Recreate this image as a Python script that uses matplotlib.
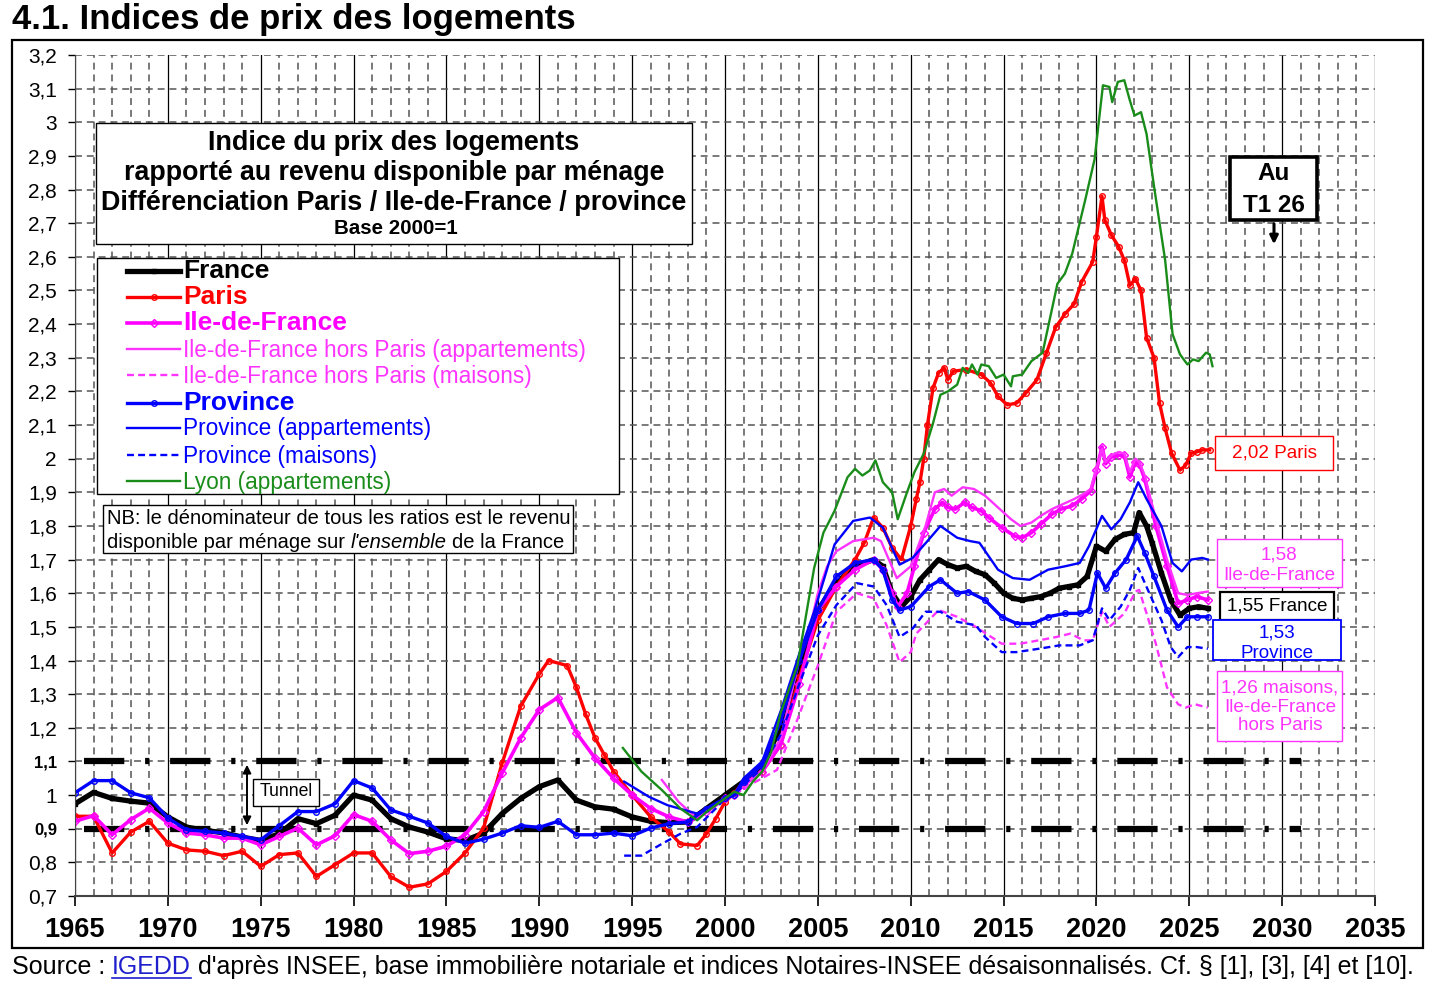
import matplotlib
matplotlib.use("Agg")
import matplotlib.pyplot as plt
from matplotlib.patches import Rectangle, FancyArrowPatch
from matplotlib.lines import Line2D
from matplotlib.ticker import MultipleLocator

W, H = 1433, 985
plt.rcParams['font.family'] = ['Liberation Sans', 'DejaVu Sans']
plt.rcParams['lines.scale_dashes'] = False

# ---- data (year, ratio) ----
france = [(1965, 0.974), (1966, 1.008), (1967, 0.99), (1968, 0.982), (1969, 0.976), (1970, 0.935),
          (1971, 0.905), (1972, 0.895), (1973, 0.888), (1974, 0.875), (1975, 0.865), (1976, 0.885),
          (1977, 0.93), (1978, 0.915), (1979, 0.94), (1980, 1.0), (1981, 0.985), (1982, 0.93),
          (1983, 0.905), (1984, 0.89), (1985, 0.87), (1986, 0.865), (1987, 0.887), (1988, 0.945),
          (1989, 0.99), (1990, 1.025), (1991, 1.045), (1992, 0.985), (1993, 0.965), (1994, 0.958),
          (1995, 0.935), (1996, 0.922), (1997, 0.918), (1998, 0.92), (1999, 0.96), (2000, 1.0),
          (2001, 1.04), (2002, 1.09), (2003, 1.2), (2004, 1.38), (2005, 1.55), (2006, 1.63),
          (2007, 1.68), (2008, 1.70), (2008.5, 1.68), (2009, 1.6), (2009.5, 1.56), (2010, 1.59),
          (2010.5, 1.64), (2011, 1.67), (2011.5, 1.70), (2012, 1.685), (2012.5, 1.675), (2013, 1.68),
          (2013.5, 1.665), (2014, 1.655), (2014.5, 1.63), (2015, 1.60), (2015.5, 1.585), (2016, 1.58),
          (2016.5, 1.585), (2017, 1.59), (2017.5, 1.60), (2018, 1.615), (2018.5, 1.62), (2019, 1.625),
          (2019.5, 1.65), (2020, 1.74), (2020.5, 1.725), (2021, 1.76), (2021.5, 1.775), (2022, 1.78),
          (2022.3, 1.84), (2022.7, 1.80), (2023, 1.75), (2023.5, 1.66), (2024, 1.58), (2024.5, 1.535),
          (2025, 1.555), (2025.5, 1.56), (2026, 1.555)]

paris = [(1965, 0.937), (1966, 0.937), (1967, 0.828), (1968, 0.89), (1969, 0.922), (1970, 0.857),
         (1971, 0.837), (1972, 0.833), (1973, 0.82), (1974, 0.833), (1975, 0.788), (1976, 0.823),
         (1977, 0.828), (1978, 0.758), (1979, 0.793), (1980, 0.828), (1981, 0.828), (1982, 0.758),
         (1983, 0.726), (1984, 0.736), (1985, 0.773), (1986, 0.828), (1987, 0.902), (1988, 1.095),
         (1989, 1.264), (1990, 1.36), (1990.5, 1.40), (1991.5, 1.385), (1992, 1.32), (1992.5, 1.24),
         (1993, 1.17), (1993.5, 1.12), (1994, 1.07), (1995, 1.0), (1996, 0.935), (1997, 0.89),
         (1997.6, 0.855), (1998.5, 0.85), (1999, 0.885), (1999.5, 0.93), (2000, 0.98), (2000.5, 1.005),
         (2001, 1.04), (2002, 1.07), (2003, 1.15), (2004, 1.35), (2005, 1.52), (2006, 1.62),
         (2007, 1.70), (2007.5, 1.75), (2008, 1.825), (2008.5, 1.795), (2009, 1.735), (2009.5, 1.70),
         (2010, 1.80), (2010.3, 1.88), (2010.5, 1.93), (2010.7, 2.0), (2010.9, 2.1), (2011.2, 2.21),
         (2011.5, 2.255), (2011.8, 2.27), (2012, 2.235), (2012.3, 2.26), (2013, 2.265), (2013.8, 2.25),
         (2014.3, 2.225), (2014.7, 2.185), (2015.2, 2.16), (2015.7, 2.165), (2016.2, 2.195),
         (2016.8, 2.235), (2017.3, 2.313), (2017.8, 2.39), (2018.3, 2.43), (2018.8, 2.46),
         (2019.2, 2.525), (2019.8, 2.585), (2020.0, 2.66), (2020.3, 2.78), (2020.45, 2.71),
         (2020.8, 2.665), (2021.2, 2.63), (2021.5, 2.59), (2021.8, 2.515), (2022.1, 2.535),
         (2022.4, 2.50), (2022.7, 2.36), (2023.1, 2.30), (2023.4, 2.165), (2023.7, 2.09),
         (2024.05, 2.016), (2024.5, 1.966), (2024.8, 1.98), (2025.1, 2.016), (2025.4, 2.02),
         (2025.7, 2.026), (2026.1, 2.026)]

idf = [(1965, 0.922), (1966, 0.939), (1967, 0.882), (1968, 0.927), (1969, 0.961), (1970, 0.917),
       (1971, 0.887), (1972, 0.882), (1973, 0.872), (1974, 0.872), (1975, 0.852), (1976, 0.877),
       (1977, 0.902), (1978, 0.852), (1979, 0.879), (1980, 0.942), (1981, 0.922), (1982, 0.867),
       (1983, 0.826), (1984, 0.833), (1985, 0.848), (1986, 0.882), (1987, 0.951), (1988, 1.065),
       (1989, 1.17), (1990, 1.254), (1991, 1.29), (1992, 1.185), (1993, 1.11), (1994, 1.05),
       (1995, 1.0), (1996, 0.96), (1997, 0.935), (1998, 0.92), (1999, 0.95), (2000, 0.99),
       (2000.5, 1.0), (2001, 1.03), (2002, 1.07), (2003, 1.15), (2004, 1.33), (2005, 1.55),
       (2006, 1.62), (2007, 1.67), (2008, 1.70), (2008.5, 1.67), (2009, 1.60), (2009.3, 1.56),
       (2009.8, 1.60), (2010.2, 1.68), (2010.7, 1.78), (2011.3, 1.85), (2011.7, 1.87), (2012, 1.855),
       (2012.4, 1.85), (2012.9, 1.87), (2013.3, 1.855), (2013.8, 1.845), (2014.2, 1.825),
       (2014.9, 1.795), (2015.6, 1.77), (2016, 1.765), (2016.5, 1.78), (2017, 1.805), (2017.6, 1.835),
       (2018.1, 1.85), (2018.7, 1.86), (2019.2, 1.88), (2019.7, 1.905), (2020, 1.965), (2020.3, 2.035),
       (2020.5, 1.985), (2020.8, 2.005), (2021.2, 2.01), (2021.5, 2.01), (2021.8, 1.945),
       (2022.1, 1.99), (2022.3, 1.985), (2022.6, 1.94), (2023.2, 1.80), (2023.8, 1.68),
       (2024.4, 1.57), (2024.9, 1.58), (2025.4, 1.59), (2026, 1.58)]

idf_appart = [(1996.6, 1.045), (1997.5, 0.98), (1998.4, 0.935), (1999, 0.95), (2000, 0.99),
              (2000.5, 1.0), (2001, 1.03), (2002, 1.07), (2003, 1.17), (2004, 1.40), (2004.5, 1.48),
              (2005, 1.6), (2005.5, 1.68), (2006, 1.725), (2006.9, 1.755), (2008, 1.765),
              (2008.4, 1.755), (2009.25, 1.645), (2010, 1.68), (2010.8, 1.80), (2011.3, 1.90),
              (2011.8, 1.91), (2012.2, 1.89), (2012.8, 1.915), (2013.4, 1.91), (2014, 1.89),
              (2014.6, 1.86), (2015.4, 1.82), (2015.9, 1.80), (2016.5, 1.81), (2017, 1.83),
              (2017.6, 1.85), (2018.2, 1.865), (2018.8, 1.88), (2019.3, 1.895), (2019.7, 1.91),
              (2020, 1.97), (2020.3, 2.03), (2020.5, 1.99), (2020.8, 2.01), (2021.2, 2.02),
              (2021.5, 2.015), (2021.8, 1.96), (2022.1, 2.0), (2022.3, 1.99), (2022.6, 1.95),
              (2023.2, 1.82), (2023.8, 1.70), (2024.4, 1.60), (2024.9, 1.595), (2025.4, 1.60),
              (2026, 1.605)]

idf_maisons = [(2000, 0.99), (2000.5, 1.0), (2001, 1.02), (2002, 1.05), (2002.8, 1.075),
               (2003.9, 1.225), (2005, 1.385), (2006, 1.545), (2007.1, 1.60), (2008, 1.585),
               (2008.7, 1.505), (2009.4, 1.395), (2010, 1.425), (2010.3, 1.48), (2011.5, 1.55),
               (2012.5, 1.53), (2013.5, 1.50), (2014.9, 1.45), (2015.9, 1.45), (2016.9, 1.46),
               (2017.85, 1.47), (2018.6, 1.48), (2019.3, 1.46), (2019.8, 1.46), (2020.3, 1.545),
               (2020.7, 1.50), (2021.5, 1.54), (2022.1, 1.605), (2022.3, 1.61), (2022.7, 1.54),
               (2023.2, 1.45), (2023.8, 1.32), (2024.4, 1.27), (2024.8, 1.26), (2025.3, 1.27),
               (2026, 1.26)]

province = [(1965, 1.007), (1966, 1.043), (1967, 1.043), (1968, 1.007), (1969, 0.992), (1970, 0.932),
            (1971, 0.897), (1972, 0.892), (1973, 0.887), (1974, 0.877), (1975, 0.867), (1976, 0.909),
            (1977, 0.951), (1978, 0.951), (1979, 0.974), (1980, 1.043), (1981, 1.021), (1982, 0.956),
            (1983, 0.937), (1984, 0.917), (1985, 0.877), (1986, 0.857), (1987, 0.869), (1988, 0.887),
            (1989, 0.909), (1990, 0.904), (1991, 0.922), (1992, 0.882), (1993, 0.882), (1994, 0.887),
            (1995, 0.879), (1996, 0.902), (1997, 0.915), (1998, 0.92), (1999, 0.96), (2000, 0.99),
            (2000.5, 1.0), (2001, 1.04), (2002, 1.09), (2003, 1.22), (2004, 1.40), (2005, 1.55),
            (2006, 1.65), (2007, 1.69), (2008, 1.70), (2008.5, 1.67), (2009, 1.58), (2009.4, 1.55),
            (2010, 1.56), (2011, 1.62), (2011.6, 1.64), (2012.5, 1.60), (2013.1, 1.605), (2014, 1.58),
            (2014.9, 1.53), (2015.7, 1.51), (2016.6, 1.51), (2017.4, 1.53), (2018.3, 1.54),
            (2019.1, 1.54), (2019.6, 1.55), (2020.05, 1.66), (2020.5, 1.615), (2021, 1.66),
            (2021.6, 1.70), (2022.2, 1.77), (2022.6, 1.72), (2023.1, 1.65), (2023.8, 1.55),
            (2024.4, 1.50), (2024.9, 1.53), (2025.4, 1.53), (2026, 1.53)]

prov_appart = [(1994.57, 1.04), (1995.9, 0.995), (1996.9, 0.97), (1998.5, 0.945), (1999.4, 0.97),
               (2000, 0.99), (2000.5, 1.0), (2001, 1.05), (2002, 1.10), (2003, 1.25), (2004, 1.42),
               (2004.8, 1.545), (2005.9, 1.745), (2006.9, 1.815), (2007.8, 1.825), (2008.5, 1.795),
               (2009.4, 1.685), (2010.1, 1.705), (2010.9, 1.755), (2011.6, 1.80), (2012.5, 1.765),
               (2013.2, 1.755), (2013.7, 1.75), (2014.7, 1.67), (2015.5, 1.645), (2016.4, 1.64),
               (2017.4, 1.67), (2018.3, 1.68), (2019.1, 1.69), (2019.6, 1.74), (2020.3, 1.83),
               (2020.8, 1.79), (2021.3, 1.82), (2021.8, 1.87), (2022.25, 1.93), (2022.7, 1.88),
               (2023.5, 1.80), (2024.1, 1.69), (2024.6, 1.665), (2025.1, 1.70), (2025.7, 1.705),
               (2026, 1.70)]

prov_maisons = [(1994.57, 0.82), (1995.5, 0.82), (1996.6, 0.855), (1997.6, 0.885), (1998.5, 0.905),
                (1999.5, 0.96), (2000, 0.99), (2000.5, 1.0), (2001, 1.03), (2002, 1.08), (2003, 1.18),
                (2004, 1.33), (2005, 1.475), (2006, 1.565), (2007.1, 1.63), (2008, 1.62),
                (2008.7, 1.565), (2009.4, 1.47), (2010.1, 1.495), (2010.8, 1.545), (2011.6, 1.545),
                (2012.5, 1.515), (2013.5, 1.505), (2014, 1.47), (2014.9, 1.425), (2015.7, 1.425),
                (2016.9, 1.435), (2018, 1.445), (2019.1, 1.445), (2019.8, 1.46), (2020.3, 1.555),
                (2020.7, 1.52), (2021.3, 1.56), (2021.8, 1.61), (2022.25, 1.675), (2022.85, 1.60),
                (2023.5, 1.52), (2024, 1.44), (2024.4, 1.41), (2024.9, 1.44), (2025.4, 1.44),
                (2026, 1.435)]

lyon = [(1994.5, 1.14), (1995.5, 1.07), (1996.6, 1.015), (1997.6, 0.96), (1998.5, 0.925),
        (1999, 0.95), (1999.5, 0.97), (2000, 0.99), (2000.5, 1.01), (2001, 1.0), (2001.5, 1.04),
        (2002, 1.07), (2002.5, 1.13), (2003, 1.245), (2003.9, 1.385), (2004.8, 1.675), (2005.3, 1.78),
        (2005.9, 1.845), (2006.6, 1.945), (2007, 1.97), (2007.4, 1.95), (2007.8, 1.965),
        (2008.1, 1.995), (2008.5, 1.93), (2009, 1.90), (2009.3, 1.82), (2009.8, 1.90), (2010.2, 1.96),
        (2010.7, 2.015), (2011.2, 2.105), (2011.6, 2.19), (2012, 2.20), (2012.5, 2.22), (2012.8, 2.27),
        (2013.1, 2.255), (2013.3, 2.28), (2013.6, 2.25), (2013.8, 2.28), (2014.2, 2.275),
        (2014.6, 2.24), (2015, 2.25), (2015.4, 2.215), (2015.5, 2.245), (2016, 2.25), (2016.5, 2.29),
        (2017.1, 2.315), (2017.9, 2.52), (2018.3, 2.55), (2018.7, 2.61), (2019.4, 2.77),
        (2019.9, 2.89), (2020.35, 3.11), (2020.7, 3.105), (2020.85, 3.06), (2021.15, 3.12),
        (2021.5, 3.125), (2021.8, 3.065), (2022.05, 3.02), (2022.4, 3.03), (2022.7, 2.965),
        (2023.1, 2.81), (2023.7, 2.59), (2024.1, 2.37), (2024.5, 2.31), (2024.9, 2.28),
        (2025.2, 2.295), (2025.5, 2.29), (2025.9, 2.315), (2026.1, 2.31), (2026.25, 2.275)]

tunnel_levels = [0.9, 1.1]
tunnel_span = [1965.5, 2031.0]

x_ticks = [1965, 1970, 1975, 1980, 1985, 1990, 1995, 2000, 2005, 2010, 2015, 2020, 2025, 2030, 2035]
y_ticks = [0.7, 0.8, 0.9, 1.0, 1.1, 1.2, 1.3, 1.4, 1.5, 1.6, 1.7, 1.8, 1.9, 2.0,
           2.1, 2.2, 2.3, 2.4, 2.5, 2.6, 2.7, 2.8, 2.9, 3.0, 3.1, 3.2]
y_tick_labels = ["0,7", "0,8", "0,9", "1", "1,1", "1,2", "1,3", "1,4", "1,5", "1,6", "1,7", "1,8",
                 "1,9", "2", "2,1", "2,2", "2,3", "2,4", "2,5", "2,6", "2,7", "2,8", "2,9", "3",
                 "3,1", "3,2"]

series = [
    ("France", france),
    ("Paris", paris),
    ("Ile-de-France", idf),
    ("Ile-de-France hors Paris (appartements)", idf_appart),
    ("Ile-de-France hors Paris (maisons)", idf_maisons),
    ("Province", province),
    ("Province (appartements)", prov_appart),
    ("Province (maisons)", prov_maisons),
    ("Lyon (appartements)", lyon),
]

RED, MAG, MAG2, BLUE, GREEN = "#FF0000", "#FF00FF", "#FF33FF", "#0000FF", "#1A8C1A"
styles = {
    "France": dict(color="black", lw=3.8, marker="s", ms=3.5, mfc="black"),
    "Paris": dict(color=RED, lw=2.4, marker="o", ms=4, mfc="none", mew=1),
    "Ile-de-France": dict(color=MAG, lw=2.6, marker="D", ms=4, mfc="none", mew=1),
    "Ile-de-France hors Paris (appartements)": dict(color=MAG2, lw=1.7),
    "Ile-de-France hors Paris (maisons)": dict(color=MAG2, lw=1.7, ls=(0, (5, 3))),
    "Province": dict(color=BLUE, lw=2.4, marker="o", ms=4, mfc="none", mew=1),
    "Province (appartements)": dict(color=BLUE, lw=1.7),
    "Province (maisons)": dict(color=BLUE, lw=1.7, ls=(0, (5, 3))),
    "Lyon (appartements)": dict(color=GREEN, lw=1.7),
}
text_colors = {"Ile-de-France hors Paris (appartements)": MAG2,
               "Ile-de-France hors Paris (maisons)": MAG2}

fig = plt.figure(figsize=(W / 100, H / 100), dpi=100)
ax = fig.add_axes([75 / W, 1 - 896 / H, 1300 / W, 841 / H])
renderer = fig.canvas.get_renderer()


def fx(px):
    return px / W


def fy(py):
    return 1 - py / H


def fit(t, width):
    # scale font so the text spans the width measured on the reference
    w = t.get_window_extent(renderer).width
    t.set_fontsize(t.get_fontsize() * width / w)


def box(x0, y0, x1, y1, color="black", lw=1.0):
    fig.add_artist(Rectangle((fx(x0), fy(y1)), (x1 - x0) / W, (y1 - y0) / H,
                             transform=fig.transFigure, facecolor="white",
                             edgecolor=color, lw=lw, zorder=2))


def ftext(x, y, s, **kw):
    kw.setdefault("va", "center")
    kw.setdefault("zorder", 3)
    return fig.text(fx(x), fy(y), s, **kw)


def text_run(x, y, pieces, fs, total=None):
    # pieces of one line with different styles, laid out one after another
    texts = [ftext(x, y, s, fontsize=fs, **kw) for s, kw in pieces]

    def layout():
        cx = x
        for t in texts:
            t.set_x(fx(cx))
            cx += t.get_window_extent(renderer).width + 0.278 * t.get_fontsize() * 100 / 72
        return cx - 0.278 * texts[-1].get_fontsize() * 100 / 72

    end = layout()
    if total:
        for t in texts:
            t.set_fontsize(t.get_fontsize() * total / (end - x))
        layout()
    return texts


# ---- axes, grid ----
ax.set_xlim(1965, 2035)
ax.set_ylim(0.7, 3.2)
ax.set_xticks(x_ticks, [str(x) for x in x_ticks])
ax.xaxis.set_minor_locator(MultipleLocator(1))
ax.set_yticks(y_ticks, y_tick_labels)
ax.grid(which="major", axis="x", color="black", ls="-", lw=0.9)
ax.grid(which="minor", axis="x", color="#555555", ls=(0, (5, 3.5)), lw=1.1)
ax.grid(which="major", axis="y", color="#555555", ls=(0, (5, 3.5)), lw=1.1)
ax.set_axisbelow(True)
for s in ("top", "right"):
    ax.spines[s].set_visible(False)
ax.spines["left"].set_color("#444444")
ax.spines["bottom"].set_color("#444444")
ax.spines["bottom"].set_linewidth(1.5)
ax.tick_params(axis="x", which="major", length=7, width=1.2, pad=8, labelsize=19.5)
ax.tick_params(axis="x", which="minor", length=0)
ax.tick_params(axis="y", length=5, width=1, pad=8, labelsize=15)
for lbl in ax.get_xticklabels():
    lbl.set_fontweight("bold")
for lbl in ax.get_yticklabels():
    if lbl.get_text() in ("1,1", "0,9"):
        lbl.set_fontweight("bold")
        lbl.set_fontsize(12)

# tunnel
for lev in tunnel_levels:
    ax.plot(tunnel_span, [lev, lev], color="black", lw=4.5, solid_capstyle="butt",
            dashes=(29, 15, 3, 15), zorder=1.5)

for name, pts in series:
    xs = [p[0] for p in pts]
    ys = [p[1] for p in pts]
    ax.plot(xs, ys, zorder=2, **styles[name])

# ---- frame and title ----
fig.add_artist(Rectangle((fx(12), fy(948)), (1423 - 12) / W, (948 - 40) / H,
                         transform=fig.transFigure, fill=False, edgecolor="black", lw=1.6))
t = ftext(12, 20, "4.1. Indices de prix des logements", fontsize=24, fontweight="bold")
fit(t, 565)

# title box
box(96, 123, 692, 244)
for txt, y, wdt in [("Indice du prix des logements", 143, 373),
                    ("rapporté au revenu disponible par ménage", 173, 543),
                    ("Différenciation Paris / Ile-de-France / province", 203, 585)]:
    t = ftext(394, y, txt, ha="center", fontsize=18, fontweight="bold")
    fit(t, wdt)
t = ftext(396, 229, "Base 2000=1", ha="center", fontsize=13, fontweight="bold")
fit(t, 124)

# legend
box(97, 258, 619, 494)
rows = [271, 297, 323, 349, 375, 403, 428, 455, 481]
big = ("France", "Paris", "Ile-de-France", "Province")
for (name, _), y in zip(series, rows):
    st = dict(styles[name])
    fig.add_artist(Line2D([fx(127), fx(153.5), fx(180)], [fy(y)] * 3, transform=fig.transFigure,
                          markevery=[1], zorder=3, **st))
    col = text_colors.get(name, st["color"])
    if name in big:
        ftext(183, y, name, color=col, fontsize=19, fontweight="bold")
    else:
        t = ftext(183, y + 1, name, color=col, fontsize=14)
        if name == "Ile-de-France hors Paris (appartements)":
            fit(t, 406)
            small_fs = t.get_fontsize()
        else:
            t.set_fontsize(small_fs)

# NB box
box(103, 505, 573, 553)
t = ftext(107, 519, "NB: le dénominateur de tous les ratios est le revenu", fontsize=13)
fit(t, 461)
nb_fs = t.get_fontsize()
text_run(107, 542, [("disponible par ménage sur", {}), ("l'ensemble", {"style": "italic"}),
                    ("de la France", {})], nb_fs)

# tunnel label
box(253, 779, 319, 806)
t = ftext(286, 792, "Tunnel", ha="center", fontsize=13)
fit(t, 53)
fig.add_artist(FancyArrowPatch((fx(247), fy(762)), (fx(247), fy(828)), transform=fig.transFigure,
                               arrowstyle="<|-|>", mutation_scale=12, color="black", lw=1.4,
                               zorder=3))

# "Au T1 26"
box(1230, 157, 1317, 220, lw=2.6)
t = ftext(1274, 173, "Au", ha="center", fontsize=16, fontweight="bold")
t2 = ftext(1274, 205, "T1 26", ha="center", fontsize=16, fontweight="bold")
fit(t2, 62)
t.set_fontsize(t2.get_fontsize())
fig.add_artist(FancyArrowPatch((fx(1274), fy(221)), (fx(1274), fy(247)), transform=fig.transFigure,
                               arrowstyle="-|>", mutation_scale=12, color="black", lw=2.2,
                               zorder=3))

# end-of-series labels
lab_fs = 13
box(1215, 436, 1333, 470, color=RED)
t = ftext(1274, 453, "2,02 Paris", ha="center", color=RED, fontsize=lab_fs)
fit(t, 85)
lab_fs = t.get_fontsize()
box(1217, 539, 1342, 587, color=MAG2)
ftext(1279, 555, "1,58", ha="center", color=MAG2, fontsize=lab_fs)
ftext(1279, 576, "Ile-de-France", ha="center", color=MAG2, fontsize=lab_fs)
box(1220, 592, 1334, 620, color="black", lw=1.6)
ftext(1277, 606, "1,55 France", ha="center", color="black", fontsize=lab_fs)
box(1213, 620, 1341, 660, color=BLUE, lw=1.3)
ftext(1277, 633, "1,53", ha="center", color=BLUE, fontsize=lab_fs)
ftext(1277, 654, "Province", ha="center", color=BLUE, fontsize=lab_fs)
box(1217, 671, 1342, 741, color=MAG2)
ftext(1280, 688, "1,26 maisons,", ha="center", color=MAG2, fontsize=lab_fs)
ftext(1280, 707, "Ile-de-France", ha="center", color=MAG2, fontsize=lab_fs)
ftext(1280, 726, "hors Paris", ha="center", color=MAG2, fontsize=lab_fs)

# source line
src = text_run(12, 967, [("Source :", {}), ("IGEDD", {"color": "#1F1FCC"}),
                         ("d'après INSEE, base immobilière notariale et indices Notaires-INSEE "
                          "désaisonnalisés. Cf. § [1], [3], [4] et [10].", {})], 16, total=1406)
bb = src[1].get_window_extent(renderer)
fig.add_artist(Line2D([bb.x0 / W, bb.x1 / W], [(bb.y0 + 1) / H] * 2, transform=fig.transFigure,
                      color="#1F1FCC", lw=1.2))

fig.savefig("out.png", dpi=100)
